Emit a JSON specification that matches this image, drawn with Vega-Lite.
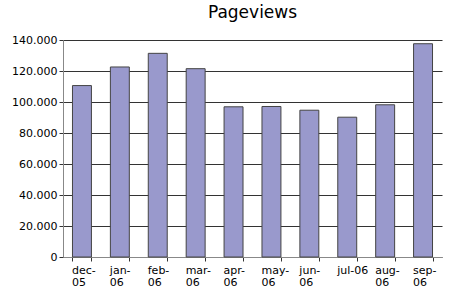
{
  "$schema": "https://vega.github.io/schema/vega-lite/v6.json",
  "width": 379,
  "height": 217,
  "autosize": "none",
  "padding": {"left": 63, "top": 40, "right": 8, "bottom": 37},
  "title": {"text": "Pageviews", "fontSize": 17, "font": "DejaVu Sans", "fontWeight": "normal", "color": "#000", "offset": 12},
  "config": {
    "view": {"stroke": null},
    "font": "DejaVu Sans",
    "axisY": {
      "title": null, "values": [0,10000,20000,30000,40000,50000,60000,70000,80000,90000,100000,110000,120000,130000,140000],
      "labelExpr": "replace(format(datum.value, ','), ',', '.')", "grid": true, "gridColor": "#333", "gridWidth": 1,
      "domainColor": "#888", "tickColor": "#333", "tickSize": 4, "labelOverlap": false,
      "labelFontSize": 11, "labelColor": "#000", "labelPadding": 2
    }
  },
  "data": {
    "values": [
      {"month": "dec-05", "views": 110600, "l1": "dec-", "l2": "05"},
      {"month": "jan-06", "views": 122600, "l1": "jan-", "l2": "06"},
      {"month": "feb-06", "views": 131400, "l1": "feb-", "l2": "06"},
      {"month": "mar-06", "views": 121500, "l1": "mar-", "l2": "06"},
      {"month": "apr-06", "views": 96900, "l1": "apr-", "l2": "06"},
      {"month": "may-06", "views": 97100, "l1": "may-", "l2": "06"},
      {"month": "jun-06", "views": 94700, "l1": "jun-", "l2": "06"},
      {"month": "jul-06", "views": 90200, "l1": "jul-06", "l2": ""},
      {"month": "aug-06", "views": 98200, "l1": "aug-", "l2": "06"},
      {"month": "sep-06", "views": 137600, "l1": "sep-", "l2": "06"}
    ]
  },
  "encoding": {
    "x": {
      "field": "month", "type": "ordinal", "sort": null,
      "scale": {"paddingInner": 0.5, "paddingOuter": 0.25},
      "axis": {
        "title": null, "labels": false, "tickBand": "extent",
        "domainColor": "#888", "tickColor": "#333", "tickSize": 4
      }
    }
  },
  "layer": [
    {
      "mark": {"type": "bar", "fill": "#9999cc", "stroke": "#444", "strokeWidth": 1},
      "encoding": {
        "y": {
          "field": "views", "type": "quantitative",
          "scale": {"domain": [0, 140000]},
          "axis": {"labelOverlap": false}
        }
      }
    },
    {
      "mark": {"type": "text", "align": "left", "baseline": "alphabetic", "dx": -10, "dy": 17, "fontSize": 11, "color": "#000"},
      "encoding": {
        "y": {"datum": 0, "type": "quantitative", "scale": {"domain": [0, 140000]}, "axis": {"labelOverlap": false}},
        "text": {"field": "l1"}
      }
    },
    {
      "mark": {"type": "text", "align": "left", "baseline": "alphabetic", "dx": -10, "dy": 29, "fontSize": 11, "color": "#000"},
      "encoding": {
        "y": {"datum": 0, "type": "quantitative", "scale": {"domain": [0, 140000]}, "axis": {"labelOverlap": false}},
        "text": {"field": "l2"}
      }
    }
  ]
}
